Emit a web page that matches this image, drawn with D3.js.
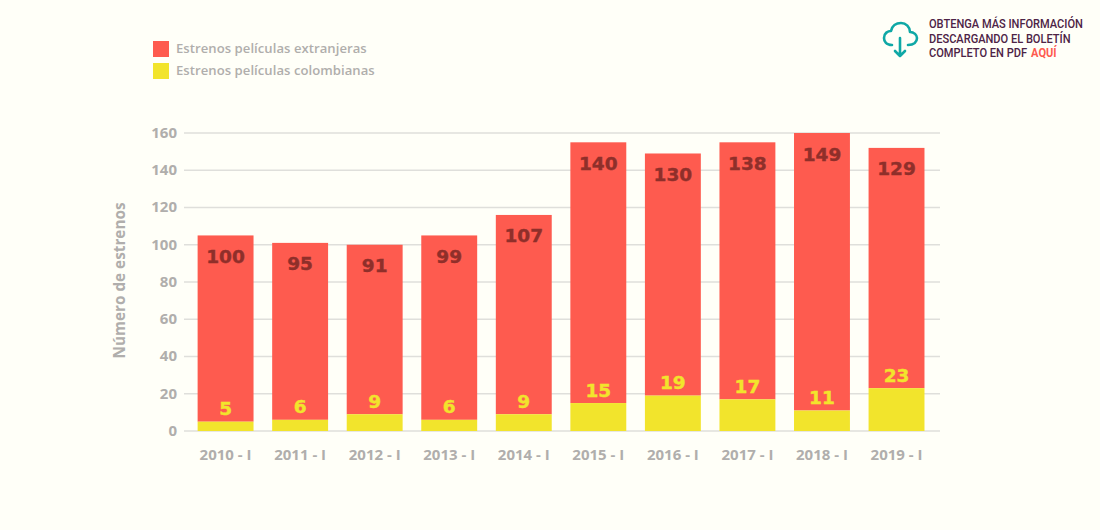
<!DOCTYPE html>
<html>
<head>
<meta charset="utf-8">
<script src="https://cdn.jsdelivr.net/npm/d3@7"></script>
<style>
  html, body { margin: 0; padding: 0; background: #fffff8; }
  svg { display: block; }
  text { font-family: "Open Sans", sans-serif; }
</style>
</head>
<body>
<svg id="chart" width="1100" height="530"></svg>
<script>
const periods = ['2010 - I', '2011 - I', '2012 - I', '2013 - I', '2014 - I', '2015 - I', '2016 - I', '2017 - I', '2018 - I', '2019 - I'];
const colombianas = [5, 6, 9, 6, 9, 15, 19, 17, 11, 23];
const extranjeras = [100, 95, 91, 99, 107, 140, 130, 138, 149, 129];
const yTicks = [0, 20, 40, 60, 80, 100, 120, 140, 160];
const legendLabels = ['Estrenos películas extranjeras', 'Estrenos películas colombianas'];
const infoLines = ['OBTENGA MÁS INFORMACIÓN', 'DESCARGANDO EL BOLETÍN', 'COMPLETO EN PDF'];

const red = '#fe5b4f';
const yellow = '#f2e42c';
const grey = '#b0aeac';
const grid = '#dfdfdb';
const purple = '#4d2346';

const rows = periods.map((p, i) => ({ period: p, col: colombianas[i], ext: extranjeras[i] }));

const svg = d3.select('#chart');

const x = d3.scaleBand().domain(periods).range([188.3, 933.8]).paddingInner(0.25).paddingOuter(0.125);
const y = d3.scaleLinear().domain([0, 160]).range([431, 133]);

// grid lines + left labels
const yAxis = svg.append('g')
  .attr('transform', 'translate(184,-0.5)')
  .call(d3.axisLeft(y).tickValues(yTicks).tickSize(-756).tickPadding(7));
yAxis.select('.domain').remove();
yAxis.selectAll('line').attr('stroke', grid).attr('stroke-width', 1.3);
yAxis.selectAll('text')
  .attr('fill', grey)
  .style('font-size', '15px')
  .style('font-weight', 700);

const xAxis = svg.append('g')
  .attr('transform', 'translate(0,431)')
  .call(d3.axisBottom(x).tickSize(0).tickPadding(18));
xAxis.select('.domain').remove();
xAxis.selectAll('text')
  .attr('fill', grey)
  .style('font-size', '15px')
  .style('font-weight', 700);

// bars
svg.append('g').selectAll('rect')
  .data(rows)
  .join('rect')
  .attr('x', d => x(d.period))
  .attr('width', x.bandwidth())
  .attr('y', d => y(d.col + d.ext))
  .attr('height', d => y(d.col) - y(d.col + d.ext))
  .attr('fill', red);

svg.append('g').selectAll('rect')
  .data(rows)
  .join('rect')
  .attr('x', d => x(d.period))
  .attr('width', x.bandwidth())
  .attr('y', d => y(d.col))
  .attr('height', d => y(0) - y(d.col))
  .attr('fill', yellow);

// value labels
svg.append('g').selectAll('text')
  .data(rows)
  .join('text')
  .attr('x', d => x(d.period) + x.bandwidth() / 2)
  .attr('y', d => y(d.col + d.ext) + 27.5)
  .attr('text-anchor', 'middle')
  .attr('fill', '#8f2f2a')
  .attr('stroke', '#8f2f2a')
  .attr('stroke-width', 0.4)
  .style('font-family', '"DejaVu Sans", sans-serif')
  .style('font-size', '18.5px')
  .style('font-weight', 700)
  .text(d => d.ext);

svg.append('g').selectAll('text')
  .data(rows)
  .join('text')
  .attr('x', d => x(d.period) + x.bandwidth() / 2)
  .attr('y', d => y(d.col) - 6.5)
  .attr('text-anchor', 'middle')
  .attr('fill', yellow)
  .attr('stroke', yellow)
  .attr('stroke-width', 0.4)
  .style('font-family', '"DejaVu Sans", sans-serif')
  .style('font-size', '18.5px')
  .style('font-weight', 700)
  .text(d => d.col);

// y axis title
svg.append('text')
  .attr('transform', 'translate(125,280.5) rotate(-90)')
  .attr('text-anchor', 'middle')
  .attr('fill', grey)
  .style('font-size', '15.3px')
  .style('font-weight', 700)
  .text('Número de estrenos');

// legend
const legend = svg.append('g').selectAll('g')
  .data(legendLabels)
  .join('g')
  .attr('transform', (d, i) => `translate(153,${41 + i * 22})`);
legend.append('rect')
  .attr('width', 16)
  .attr('height', 16)
  .attr('fill', (d, i) => i === 0 ? red : yellow);
legend.append('text')
  .attr('x', 23)
  .attr('y', 11.5)
  .attr('fill', grey)
  .style('font-size', '13.1px')
  .style('font-weight', 600)
  .style('letter-spacing', '0.05px')
  .text(d => d);

// download note, squeezed sideways to look condensed like the original
const info = svg.append('g');
const infoTexts = infoLines.map((line, i) => info.append('text')
  .attr('y', 28.5 + i * 14.3)
  .attr('fill', purple)
  .style('font-family', 'Roboto, sans-serif')
  .style('font-size', '12px')
  .style('font-weight', 500)
  .text(line));
const aqui = info.append('text')
  .attr('y', 28.5 + 2 * 14.3)
  .attr('fill', red)
  .style('font-family', 'Roboto, sans-serif')
  .style('font-size', '12px')
  .style('font-weight', 700)
  .text('AQUÍ');
const squeeze = 154 / infoTexts[0].node().getComputedTextLength();
aqui.attr('x', infoTexts[2].node().getComputedTextLength() + 4 / squeeze);
info.attr('transform', `translate(929,0) scale(${squeeze},1)`);

// cloud icon
const icon = svg.append('g')
  .attr('fill', 'none')
  .attr('stroke', '#0fa8a6')
  .attr('stroke-width', 2.6)
  .attr('stroke-linecap', 'round')
  .attr('stroke-linejoin', 'round');
icon.append('path')
  .attr('d', 'M892 45 C886 45 884 41 884 38 C884 33 888 31 891 31 C892 26 896 23 901 23 C906 23 910 27 910 32 C914 32 917 35 917 38 C917 42 914 45 908 45');
icon.append('path').attr('d', 'M900 38 V56 M895 51 L900 56 L905 51');
</script>
</body>
</html>
